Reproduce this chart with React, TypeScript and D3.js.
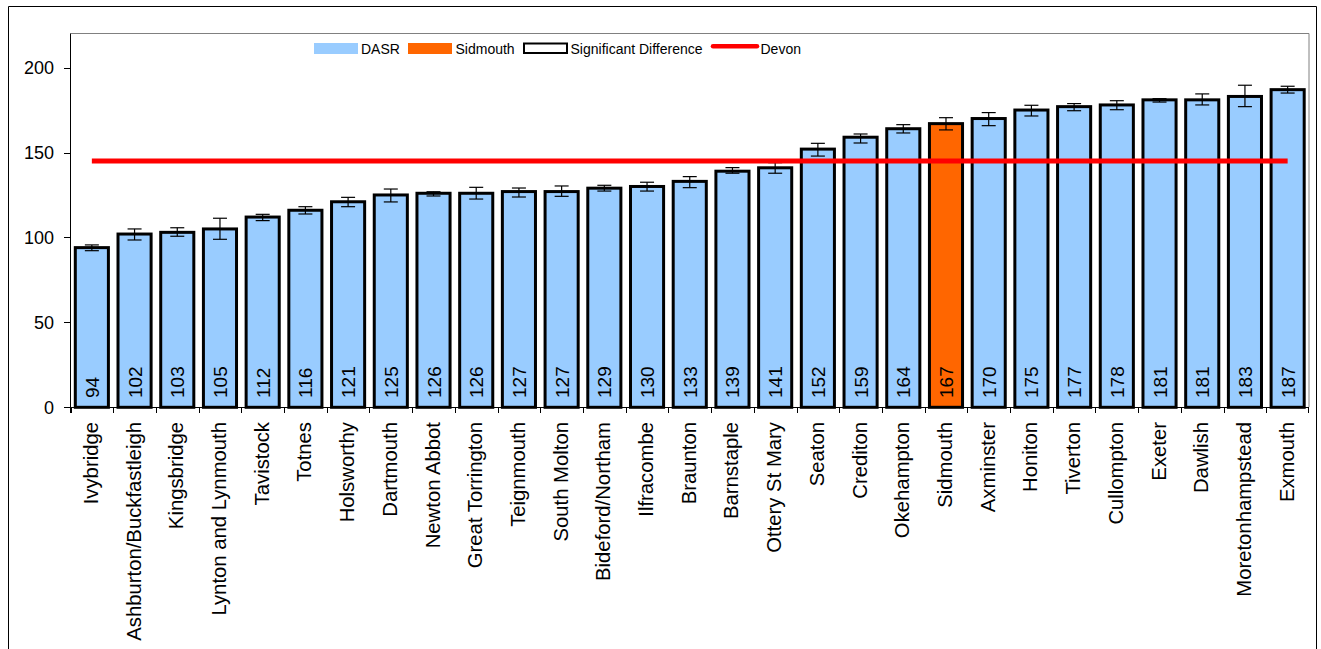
import React from "react";
import * as d3 from "d3";

const categories = [
  "Ivybridge", "Ashburton/Buckfastleigh", "Kingsbridge", "Lynton and Lynmouth", "Tavistock",
  "Totnes", "Holsworthy", "Dartmouth", "Newton Abbot", "Great Torrington", "Teignmouth",
  "South Molton", "Bideford/Northam", "Ilfracombe", "Braunton", "Barnstaple", "Ottery St Mary",
  "Seaton", "Crediton", "Okehampton", "Sidmouth", "Axminster", "Honiton", "Tiverton",
  "Cullompton", "Exeter", "Dawlish", "Moretonhampstead", "Exmouth",
];
const dasr = [94, 102, 103, 105, 112, 116, 121, 125, 126, 126, 127, 127, 129, 130, 133, 139, 141,
  152, 159, 164, 167, 170, 175, 177, 178, 181, 181, 183, 187];
const ciLow = [92.2, 98.5, 100.7, 98.9, 109.9, 113.8, 118.1, 120.9, 124.4, 122.6, 123.8, 124.2, 127.3,
  127.3, 129.3, 137.8, 137.8, 147.9, 155.6, 161.5, 163.3, 165.8, 171.5, 174.6, 175.2, 179.7, 178.0, 177.0, 185.0];
const ciHigh = [95.6, 105.0, 105.7, 111.3, 113.6, 118.1, 123.6, 128.5, 126.9, 129.5, 129.1, 130.3, 130.7,
  132.5, 135.8, 141.1, 144.0, 155.4, 160.9, 166.4, 170.5, 173.5, 177.8, 178.8, 180.5, 181.7, 184.5, 189.6, 189.0];
const highlight = "Sidmouth";
const devonValue = 145;
const yTicks = [0, 50, 100, 150, 200];
const legendItems = ["DASR", "Sidmouth", "Significant Difference", "Devon"];

const FONT = "'Liberation Sans', Arial, sans-serif";

export default function App() {
  const W = 1321, H = 649;
  const x = d3.scaleBand<string>().domain(categories).range([70.5, 1309]).padding(0);
  const y = d3.scaleLinear().domain([0, 220]).range([407.3, 33.6]);
  const step = x.step();
  const barW = step * 0.775;
  const cx = (c: string) => (x(c) as number) + step / 2;
  const first = cx(categories[0]);
  const last = cx(categories[categories.length - 1]);

  return (
    <svg width={W} height={H} style={{ position: "absolute", left: 0, top: 0, fontFamily: FONT }}>
      <rect x={0} y={0} width={W} height={H} fill="#fff" />
      {/* outer border */}
      <path d={`M8.5,${H + 5} V6.5 H1316.5 V${H + 5}`} fill="none" stroke="#000" strokeWidth={1} />
      {/* plot area top/right border */}
      <path d={`M70.5,33.5 H1309 V407`} fill="none" stroke="#808080" strokeWidth={1} />

      {/* bars */}
      {categories.map((c, i) => (
        <rect key={c} x={cx(c) - barW / 2} y={y(dasr[i])} width={barW} height={y(0) - y(dasr[i])}
          fill={c === highlight ? "#FF6600" : "#99CCFF"} stroke="#000" strokeWidth={3} />
      ))}

      {/* error bars */}
      {categories.map((c, i) => {
        const xc = cx(c);
        return (
          <g key={"e" + c} stroke="#000" strokeWidth={1.2}>
            <line x1={xc} x2={xc} y1={y(ciLow[i])} y2={y(ciHigh[i])} />
            <line x1={xc - 7} x2={xc + 7} y1={y(ciLow[i])} y2={y(ciLow[i])} />
            <line x1={xc - 7} x2={xc + 7} y1={y(ciHigh[i])} y2={y(ciHigh[i])} />
          </g>
        );
      })}

      {/* Devon line */}
      <line x1={first} x2={last} y1={y(devonValue)} y2={y(devonValue)} stroke="#FF0000" strokeWidth={5} />

      {/* value labels */}
      {categories.map((c, i) => {
        const bx = cx(c) + 7;
        const by = 398;
        return (
          <text key={"v" + c} x={bx} y={by} transform={`rotate(-90 ${bx} ${by})`} fontSize={19}
            textAnchor="start" fill="#000">{dasr[i]}</text>
        );
      })}

      {/* axes */}
      <line x1={70.5} x2={1309} y1={407.5} y2={407.5} stroke="#000" strokeWidth={1} />
      <line x1={70.5} x2={70.5} y1={33.5} y2={413} stroke="#000" strokeWidth={1} />
      {categories.map((c) => (
        <line key={"t" + c} x1={Math.round(x(c) as number) + 0.5} x2={Math.round(x(c) as number) + 0.5}
          y1={407} y2={413} stroke="#000" strokeWidth={1} />
      ))}
      <line x1={1308.5} x2={1308.5} y1={407} y2={413} stroke="#000" strokeWidth={1} />
      {yTicks.map((t) => (
        <g key={"y" + t}>
          <line x1={64} x2={70.5} y1={Math.round(y(t)) + 0.5} y2={Math.round(y(t)) + 0.5} stroke="#000" strokeWidth={1} />
          <text x={54} y={y(t) + 6.4} fontSize={18} textAnchor="end" fill="#000">{t}</text>
        </g>
      ))}

      {/* category labels */}
      {categories.map((c) => {
        const bx = cx(c) + 6;
        const by = 422;
        return (
          <text key={"c" + c} x={bx} y={by} transform={`rotate(-90 ${bx} ${by})`} fontSize={20.3}
            textAnchor="end" fill="#000">{c}</text>
        );
      })}

      {/* legend */}
      <g fontSize={14} fill="#000">
        <rect x={314} y={43} width={44} height={11} fill="#99CCFF" />
        <text x={361} y={54}>{legendItems[0]}</text>
        <rect x={408} y={43} width={44} height={11} fill="#FF6600" />
        <text x={455.5} y={54}>{legendItems[1]}</text>
        <rect x={524} y={43.5} width={43} height={9.5} fill="#fff" stroke="#000" strokeWidth={2} />
        <text x={570.5} y={54}>{legendItems[2]}</text>
        <line x1={713} x2={757} y1={46.3} y2={46.3} stroke="#FF0000" strokeWidth={4.5} strokeLinecap="round" />
        <text x={760.5} y={54}>{legendItems[3]}</text>
      </g>
    </svg>
  );
}
